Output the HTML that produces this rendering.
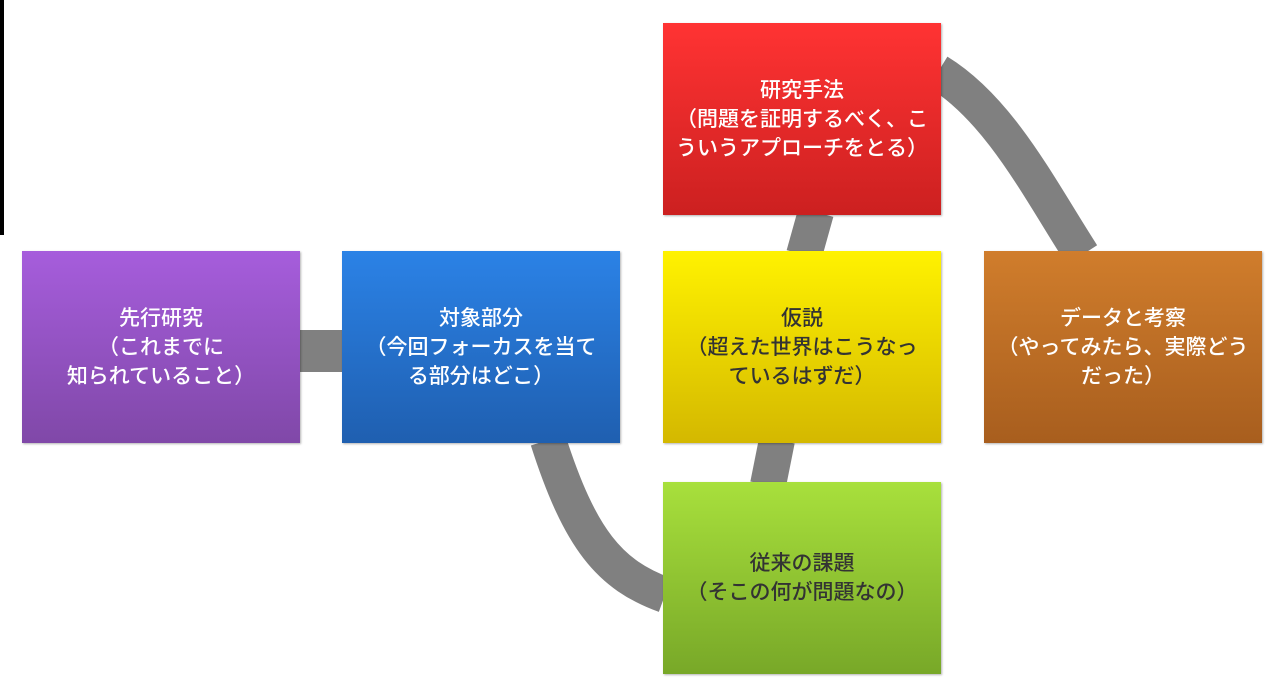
<!DOCTYPE html>
<html><head><meta charset="utf-8"><style>
body{margin:0;width:1283px;height:699px;background:#fff;position:relative;overflow:hidden;font-family:"Liberation Sans","Noto Sans CJK JP",sans-serif}
.b{position:absolute;width:278px;height:192px;display:flex;align-items:center;justify-content:center;text-align:center;color:#fff;font-size:21px;line-height:29px;box-shadow:1px 1px 2px rgba(0,0,0,.3);font-weight:500}
</style></head><body>
<div style="position:absolute;left:0;top:0;width:4px;height:235px;background:#000"></div>
<svg width="1283" height="699" style="position:absolute;left:0;top:0">
<g stroke="#808080" fill="none" stroke-width="36">
<line x1="295" y1="351" x2="345" y2="351" stroke-width="42"/>
<path d="M548 440 C580 540 610 575 665 595"/>
<line x1="816" y1="212" x2="804" y2="255"/>
<line x1="777" y1="440" x2="768" y2="485"/>
<path d="M938 72 C1000 110 1040 190 1082 255"/>
</g></svg>
<div class="b" style="left:22px;top:251px;background:linear-gradient(#a65ddc,#8048a8)">先行研究<br>（これまでに<br>知られていること）</div>
<div class="b" style="left:342px;top:251px;background:linear-gradient(#2b82e6,#1f5fb0)">対象部分<br>（今回フォーカスを当て<br>る部分はどこ）</div>
<div class="b" style="left:663px;top:251px;background:linear-gradient(#fff200,#d4b800);color:#333">仮説<br>（超えた世界はこうなっ<br>ているはずだ）</div>
<div class="b" style="left:663px;top:23px;background:linear-gradient(#ff3333,#cc2020)">研究手法<br>（問題を証明するべく、こ<br>ういうアプローチをとる）</div>
<div class="b" style="left:984px;top:251px;background:linear-gradient(#d07d2c,#a85e1e)">データと考察<br>（やってみたら、実際どう<br>だった）</div>
<div class="b" style="left:663px;top:482px;background:linear-gradient(#a8e03c,#78a828);color:#333">従来の課題<br>（そこの何が問題なの）</div>
</body></html>
